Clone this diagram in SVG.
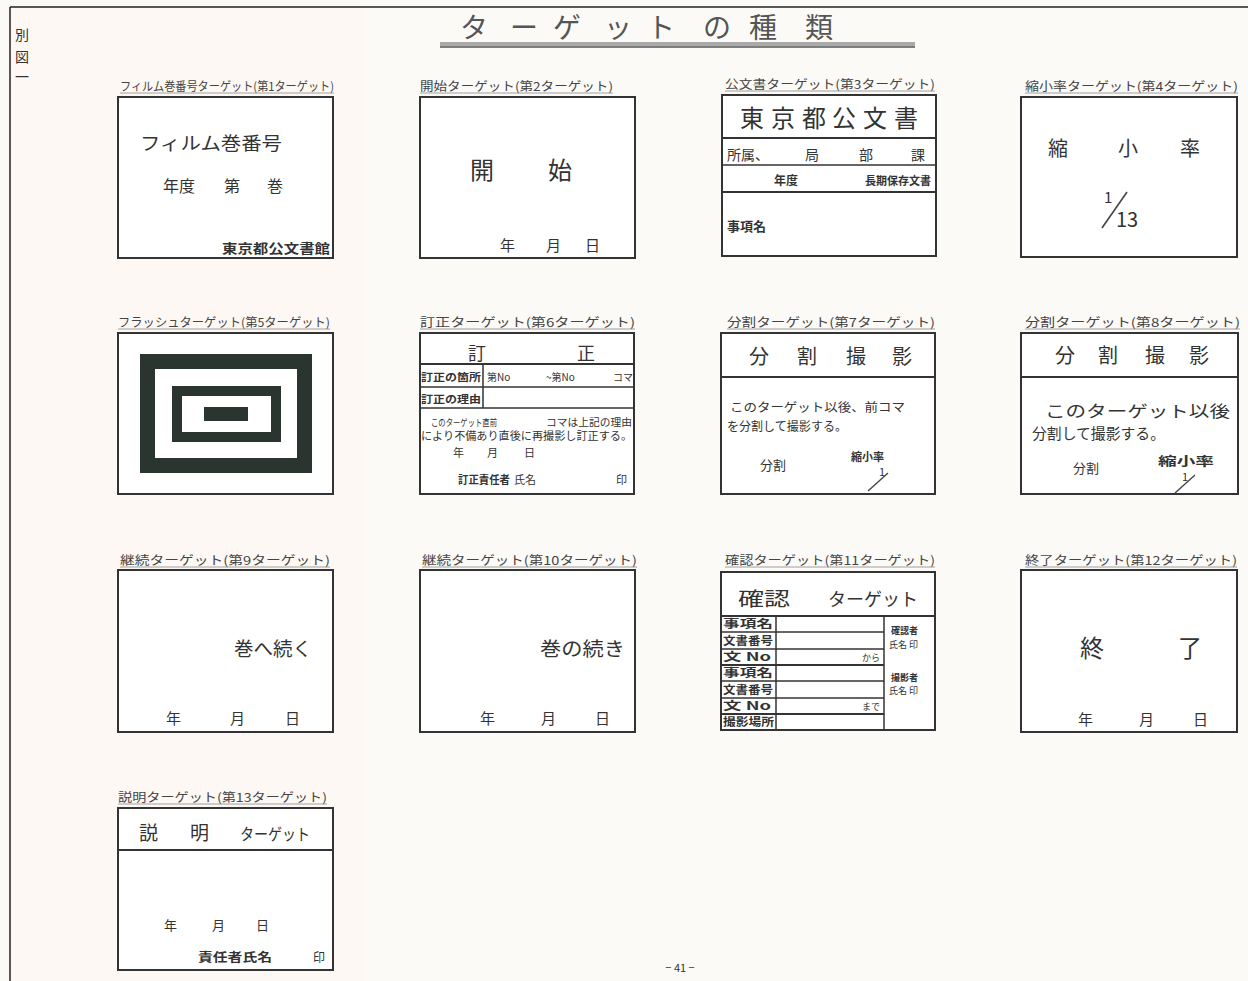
<svg xmlns="http://www.w3.org/2000/svg" width="1248" height="981" viewBox="0 0 1248 981">
<style>
.t{font-family:"Noto Sans CJK JP","Noto Sans CJK SC",sans-serif;fill:#333}
.cap{font-size:12px;fill:#444}
.cul{stroke:#888;stroke-width:0.8}
.box{fill:#fff;stroke:#333;stroke-width:2}
.ln{stroke:#333;stroke-width:1.5;fill:none}
.thk{stroke:#333;stroke-width:2.2;fill:none}
.b{font-weight:bold}
.dk{fill:#2b3530}
</style>
<rect x="0" y="0" width="1248" height="981" fill="#fcfaf7"/>
<rect x="10" y="7" width="355" height="974" fill="#fdf8f4"/>
<line x1="10" y1="7" x2="1248" y2="7" stroke="#222" stroke-width="1.5"/>
<line x1="10" y1="7" x2="10" y2="981" stroke="#222" stroke-width="1.5"/>

<g id="margin">
<text class="t" x="15" y="40" font-size="14">別</text>
<text class="t" x="15" y="62" font-size="14">図</text>
<text class="t" x="15" y="82" font-size="14">一</text>
</g>

<g id="title">
<text class="t" y="38" font-size="28" fill="#555" style="fill:#555" x="460 510 553 604 647 703 749 805">ターゲットの種類</text>
<rect x="440" y="42" width="475" height="4" fill="#aaa"/>
<line x1="440" y1="47" x2="915" y2="47" stroke="#555" stroke-width="1.5"/>
</g>

<g id="card1">
<text class="t cap" x="120" y="91" textLength="214" lengthAdjust="spacingAndGlyphs">フィルム巻番号ターゲット(第1ターゲット)</text>
<line class="cul" x1="120" y1="93" x2="334" y2="93"/>
<rect class="box" x="118" y="97" width="215" height="161"/>
<text class="t" x="140" y="150" font-size="18" textLength="142" lengthAdjust="spacingAndGlyphs">フィルム巻番号</text>
<text class="t" x="163" y="192" font-size="16">年度</text>
<text class="t" x="224" y="192" font-size="16">第</text>
<text class="t" x="267" y="192" font-size="16">巻</text>
<text class="t b" x="222" y="253" font-size="13" textLength="108" lengthAdjust="spacingAndGlyphs">東京都公文書館</text>
</g>

<g id="card2">
<text class="t cap" x="420" y="91" textLength="193" lengthAdjust="spacingAndGlyphs">開始ターゲット(第2ターゲット)</text>
<line class="cul" x1="420" y1="93" x2="613" y2="93"/>
<rect class="box" x="420" y="97" width="215" height="161"/>
<text class="t" x="470" y="179" font-size="24">開</text>
<text class="t" x="548" y="179" font-size="24">始</text>
<text class="t" x="500" y="251" font-size="15">年</text>
<text class="t" x="546" y="251" font-size="15">月</text>
<text class="t" x="585" y="251" font-size="15">日</text>
</g>

<g id="card3">
<text class="t cap" x="725" y="89" textLength="210" lengthAdjust="spacingAndGlyphs">公文書ターゲット(第3ターゲット)</text>
<line class="cul" x1="725" y1="91" x2="935" y2="91"/>
<rect class="box" x="722" y="95" width="214" height="161"/>
<text class="t" x="740 771 802 832 863 894" y="127" font-size="24">東京都公文書</text>
<line class="thk" x1="722" y1="138" x2="936" y2="138"/>
<text class="t" x="727" y="160" font-size="14">所属、</text>
<text class="t" x="805" y="160" font-size="14">局</text>
<text class="t" x="859" y="160" font-size="14">部</text>
<text class="t" x="911" y="160" font-size="14">課</text>
<line class="ln" x1="722" y1="165" x2="936" y2="165"/>
<text class="t b" x="774" y="185" font-size="12">年度</text>
<text class="t b" x="865" y="185" font-size="11" textLength="66" lengthAdjust="spacingAndGlyphs">長期保存文書</text>
<line class="thk" x1="722" y1="192" x2="936" y2="192"/>
<text class="t b" x="727" y="231" font-size="13">事項名</text>
</g>

<g id="card4">
<text class="t cap" x="1025" y="91" textLength="213" lengthAdjust="spacingAndGlyphs">縮小率ターゲット(第4ターゲット)</text>
<line class="cul" x1="1025" y1="93" x2="1238" y2="93"/>
<rect class="box" x="1021" y="97" width="216" height="160"/>
<text class="t" x="1048" y="156" font-size="20">縮</text>
<text class="t" x="1118" y="156" font-size="20">小</text>
<text class="t" x="1180" y="156" font-size="20">率</text>
<text class="t" x="1104" y="203" font-size="15">1</text>
<line x1="1102" y1="228" x2="1127" y2="192" stroke="#444" stroke-width="1.6"/>
<text class="t" x="1116" y="227" font-size="20">13</text>
</g>

<g id="card5">
<text class="t cap" x="118" y="327" textLength="212" lengthAdjust="spacingAndGlyphs">フラッシュターゲット(第5ターゲット)</text>
<line class="cul" x1="118" y1="329" x2="330" y2="329"/>
<rect class="box" x="118" y="333" width="215" height="161"/>
<rect x="147.5" y="361.5" width="157" height="104" fill="none" stroke="#2b3530" stroke-width="15"/>
<rect x="177" y="391" width="99" height="46" fill="none" stroke="#2b3530" stroke-width="10"/>
<rect class="dk" x="204" y="407" width="44" height="14"/>
</g>

<g id="card6">
<text class="t cap" x="420" y="327" textLength="215" lengthAdjust="spacingAndGlyphs">訂正ターゲット(第6ターゲット)</text>
<line class="cul" x1="420" y1="329" x2="635" y2="329"/>
<rect class="box" x="420" y="333" width="214" height="161"/>
<text class="t" x="468" y="360" font-size="18">訂</text>
<text class="t" x="577" y="360" font-size="18">正</text>
<line class="thk" x1="420" y1="364" x2="634" y2="364"/>
<text class="t b" x="421" y="381" font-size="10" textLength="60" lengthAdjust="spacingAndGlyphs">訂正の箇所</text>
<line class="ln" x1="483" y1="364" x2="483" y2="408"/>
<text class="t" x="487" y="381" font-size="10">第No</text>
<text class="t" x="546" y="381" font-size="10">~第No</text>
<text class="t" x="613" y="381" font-size="10">コマ</text>
<line class="ln" x1="420" y1="387" x2="634" y2="387"/>
<text class="t b" x="421" y="403" font-size="10" textLength="60" lengthAdjust="spacingAndGlyphs">訂正の理由</text>
<line class="ln" x1="420" y1="408" x2="634" y2="408"/>
<text class="t" x="431" y="426" font-size="9.5" textLength="66" lengthAdjust="spacingAndGlyphs">このターゲット直前</text>
<text class="t" x="546" y="426" font-size="10.5" textLength="86" lengthAdjust="spacingAndGlyphs">コマは上記の理由</text>
<text class="t" x="421" y="440" font-size="11" textLength="211" lengthAdjust="spacingAndGlyphs">により不備あり直後に再撮影し訂正する。</text>
<text class="t" x="453" y="457" font-size="11">年</text>
<text class="t" x="487" y="457" font-size="11">月</text>
<text class="t" x="524" y="457" font-size="11">日</text>
<text class="t b" x="458" y="484" font-size="11" textLength="52" lengthAdjust="spacingAndGlyphs">訂正責任者</text>
<text class="t" x="514" y="484" font-size="11">氏名</text>
<text class="t" x="616" y="484" font-size="11">印</text>
</g>

<g id="card7">
<text class="t cap" x="727" y="327" textLength="208" lengthAdjust="spacingAndGlyphs">分割ターゲット(第7ターゲット)</text>
<line class="cul" x1="727" y1="329" x2="935" y2="329"/>
<rect class="box" x="721" y="333" width="214" height="161"/>
<text class="t" x="749 797 846 892" y="364" font-size="20">分割撮影</text>
<line class="thk" x1="721" y1="377" x2="935" y2="377"/>
<text class="t" x="730" y="412" font-size="12" textLength="175" lengthAdjust="spacingAndGlyphs">このターゲット以後、前コマ</text>
<text class="t" x="727" y="431" font-size="12" textLength="120" lengthAdjust="spacingAndGlyphs">を分割して撮影する。</text>
<text class="t" x="760" y="470" font-size="13">分割</text>
<text class="t b" x="851" y="461" font-size="11">縮小率</text>
<text class="t" x="879" y="476" font-size="11">1</text>
<line x1="868" y1="491" x2="888" y2="473" stroke="#444" stroke-width="1.4"/>
</g>

<g id="card8">
<text class="t cap" x="1025" y="327" textLength="215" lengthAdjust="spacingAndGlyphs">分割ターゲット(第8ターゲット)</text>
<line class="cul" x1="1025" y1="329" x2="1240" y2="329"/>
<rect class="box" x="1021" y="333" width="217" height="161"/>
<text class="t" x="1055 1098 1145 1189" y="363" font-size="20">分割撮影</text>
<line class="thk" x1="1021" y1="377" x2="1238" y2="377"/>
<text class="t" x="1045" y="417" font-size="16" textLength="185" lengthAdjust="spacingAndGlyphs">このターゲット以後</text>
<text class="t" x="1032" y="439" font-size="15" textLength="133" lengthAdjust="spacingAndGlyphs">分割して撮影する。</text>
<text class="t" x="1073" y="473" font-size="13">分割</text>
<text class="t b" x="1158" y="466" font-size="12" textLength="56" lengthAdjust="spacingAndGlyphs">縮小率</text>
<text class="t" x="1182" y="481" font-size="11">1</text>
<line x1="1175" y1="493" x2="1195" y2="475" stroke="#444" stroke-width="1.4"/>
</g>

<g id="card9">
<text class="t cap" x="120" y="565" textLength="210" lengthAdjust="spacingAndGlyphs">継続ターゲット(第9ターゲット)</text>
<line class="cul" x1="120" y1="567" x2="330" y2="567"/>
<rect class="box" x="118" y="570" width="215" height="162"/>
<text class="t" x="234" y="656" font-size="19" textLength="78" lengthAdjust="spacingAndGlyphs">巻へ続く</text>
<text class="t" x="166" y="724" font-size="15">年</text>
<text class="t" x="230" y="724" font-size="15">月</text>
<text class="t" x="285" y="724" font-size="15">日</text>
</g>

<g id="card10">
<text class="t cap" x="422" y="565" textLength="215" lengthAdjust="spacingAndGlyphs">継続ターゲット(第10ターゲット)</text>
<line class="cul" x1="422" y1="567" x2="637" y2="567"/>
<rect class="box" x="420" y="570" width="215" height="162"/>
<text class="t" x="540" y="656" font-size="19" textLength="85" lengthAdjust="spacingAndGlyphs">巻の続き</text>
<text class="t" x="480" y="724" font-size="15">年</text>
<text class="t" x="541" y="724" font-size="15">月</text>
<text class="t" x="595" y="724" font-size="15">日</text>
</g>

<g id="card11">
<text class="t cap" x="725" y="565" textLength="210" lengthAdjust="spacingAndGlyphs">確認ターゲット(第11ターゲット)</text>
<line class="cul" x1="725" y1="567" x2="935" y2="567"/>
<rect class="box" x="721" y="572" width="214" height="158"/>
<text class="t" x="738" y="606" font-size="19" textLength="52" lengthAdjust="spacingAndGlyphs">確認</text>
<text class="t" x="828" y="606" font-size="18" textLength="90" lengthAdjust="spacingAndGlyphs">ターゲット</text>
<line class="thk" x1="721" y1="616" x2="935" y2="616"/>
<line class="ln" x1="776" y1="616" x2="776" y2="730"/>
<line class="ln" x1="884" y1="616" x2="884" y2="730"/>
<line class="ln" x1="721" y1="632" x2="884" y2="632"/>
<line class="ln" x1="721" y1="649" x2="884" y2="649"/>
<line class="thk" x1="721" y1="665" x2="884" y2="665"/>
<line class="ln" x1="721" y1="681" x2="884" y2="681"/>
<line class="ln" x1="721" y1="698" x2="884" y2="698"/>
<line class="thk" x1="721" y1="714" x2="884" y2="714"/>
<text class="t b" x="723" y="628" font-size="11" textLength="50" lengthAdjust="spacingAndGlyphs">事項名</text>
<text class="t b" x="723" y="645" font-size="11" textLength="50" lengthAdjust="spacingAndGlyphs">文書番号</text>
<text class="t b" x="723" y="661" font-size="11" textLength="48" lengthAdjust="spacingAndGlyphs">文  No</text>
<text class="t b" x="723" y="677" font-size="11" textLength="50" lengthAdjust="spacingAndGlyphs">事項名</text>
<text class="t b" x="723" y="694" font-size="11" textLength="50" lengthAdjust="spacingAndGlyphs">文書番号</text>
<text class="t b" x="723" y="710" font-size="11" textLength="48" lengthAdjust="spacingAndGlyphs">文  No</text>
<text class="t b" x="723" y="726" font-size="11" textLength="51" lengthAdjust="spacingAndGlyphs">撮影場所</text>
<text class="t" x="862" y="661" font-size="9">から</text>
<text class="t" x="862" y="710" font-size="9">まで</text>
<text class="t b" x="891" y="634" font-size="9">確認者</text>
<text class="t" x="889" y="648" font-size="9">氏名 印</text>
<text class="t b" x="891" y="681" font-size="9">撮影者</text>
<text class="t" x="889" y="694" font-size="9">氏名 印</text>
</g>

<g id="card12">
<text class="t cap" x="1025" y="565" textLength="212" lengthAdjust="spacingAndGlyphs">終了ターゲット(第12ターゲット)</text>
<line class="cul" x1="1025" y1="567" x2="1237" y2="567"/>
<rect class="box" x="1021" y="570" width="216" height="162"/>
<text class="t" x="1080" y="657" font-size="24">終</text>
<text class="t" x="1178" y="657" font-size="24">了</text>
<text class="t" x="1078" y="725" font-size="15">年</text>
<text class="t" x="1139" y="725" font-size="15">月</text>
<text class="t" x="1193" y="725" font-size="15">日</text>
</g>

<g id="card13">
<text class="t cap" x="118" y="802" textLength="209" lengthAdjust="spacingAndGlyphs">説明ターゲット(第13ターゲット)</text>
<line class="cul" x1="118" y1="804" x2="327" y2="804"/>
<rect class="box" x="118" y="808" width="215" height="162"/>
<text class="t" x="139" y="840" font-size="19">説</text>
<text class="t" x="190" y="840" font-size="19">明</text>
<text class="t" x="240" y="840" font-size="16" textLength="70" lengthAdjust="spacingAndGlyphs">ターゲット</text>
<line class="thk" x1="118" y1="850" x2="333" y2="850"/>
<text class="t" x="164" y="930" font-size="13">年</text>
<text class="t" x="212" y="930" font-size="13">月</text>
<text class="t" x="256" y="930" font-size="13">日</text>
<text class="t b" x="198" y="962" font-size="12" textLength="74" lengthAdjust="spacingAndGlyphs">責任者氏名</text>
<text class="t" x="313" y="962" font-size="12">印</text>
</g>

<g id="pagenum">
<text class="t" x="680" y="972" font-size="11" text-anchor="middle">− 41 −</text>
</g>
</svg>
